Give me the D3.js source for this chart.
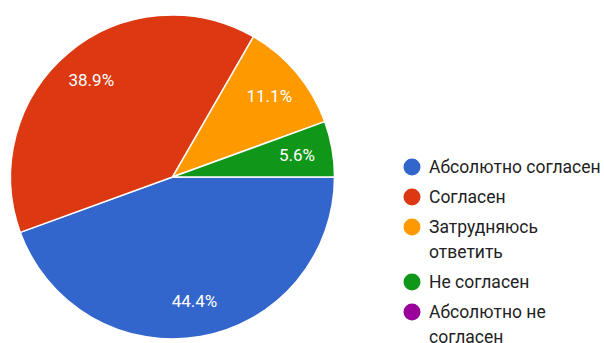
<!DOCTYPE html>
<html>
<head>
<meta charset="utf-8">
<script src="https://cdn.jsdelivr.net/npm/d3@7"></script>
<style>
  html, body { margin: 0; padding: 0; background: #fff; }
  svg { display: block; font-family: Roboto, "Noto Sans", Arial, sans-serif; }
</style>
</head>
<body>
<svg id="chart" width="604" height="343"></svg>
<script>
// answers and counts (18 responses)
const categories = [
  'Абсолютно согласен',
  'Согласен',
  'Затрудняюсь ответить',
  'Не согласен',
  'Абсолютно не согласен'
];
const counts = [8, 7, 2, 1, 0];
const colors = ['#3366cc', '#dc3912', '#ff9900', '#109618', '#990099'];

const svg = d3.select('#chart');
const cx = 172.5, cy = 177, radius = 162;

const total = d3.sum(counts);
const data = categories.map((c, i) => ({ name: c, value: counts[i], color: colors[i] }));

const pie = d3.pie()
  .value(d => d.value)
  .sort(null)
  .startAngle(Math.PI / 2)
  .endAngle(Math.PI / 2 + 2 * Math.PI);

const arc = d3.arc().innerRadius(0).outerRadius(radius);
const labelArc = d3.arc().innerRadius(radius * 0.78).outerRadius(radius * 0.78);

const pieG = svg.append('g').attr('transform', `translate(${cx},${cy})`);

const slices = pie(data).filter(d => d.data.value > 0);

pieG.selectAll('path')
  .data(slices)
  .join('path')
  .attr('d', arc)
  .attr('fill', d => d.data.color)
  .attr('stroke', '#fff')
  .attr('stroke-width', 1.5);

pieG.selectAll('text')
  .data(slices)
  .join('text')
  .attr('transform', d => `translate(${labelArc.centroid(d)})`)
  .attr('text-anchor', 'middle')
  .attr('dy', '0.35em')
  .attr('fill', '#fff')
  .style('font-size', '17px')
  .text(d => (d.data.value / total * 100).toFixed(1) + '%');

// legend
const legendX = 412, maxW = 182;
let y = 167;
const legendG = svg.append('g');

data.forEach(d => {
  const g = legendG.append('g');
  g.append('circle')
    .attr('cx', legendX)
    .attr('cy', y)
    .attr('r', 8.5)
    .attr('fill', d.color);

  const text = g.append('text')
    .attr('x', legendX + 17)
    .attr('fill', '#222')
    .style('font-size', '17.5px');

  // wrap words onto lines of at most maxW px
  const words = d.name.split(' ');
  let line = [];
  let tspan = text.append('tspan').attr('x', legendX + 17);
  words.forEach(w => {
    line.push(w);
    tspan.text(line.join(' '));
    if (tspan.node().getComputedTextLength() > maxW && line.length > 1) {
      line.pop();
      tspan.text(line.join(' '));
      line = [w];
      tspan = text.append('tspan').attr('x', legendX + 17).text(w);
    }
  });
  text.selectAll('tspan').each(function(_, i) {
    d3.select(this).attr('y', y + i * 25).attr('dy', '0.35em');
  });
  y += 30 + (text.selectAll('tspan').size() - 1) * 25;
});
</script>
</body>
</html>
